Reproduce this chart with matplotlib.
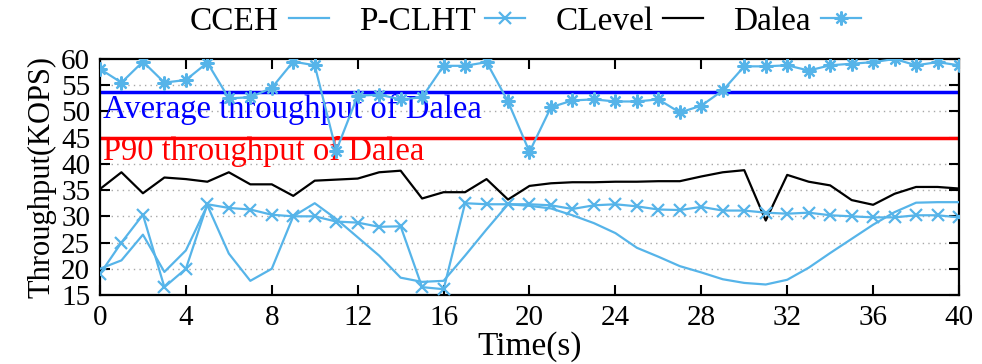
import matplotlib
matplotlib.use("Agg")
import matplotlib.pyplot as plt

plt.rcParams['font.family'] = ['Liberation Serif', 'DejaVu Serif']

time_s = list(range(0, 41))
cceh = [20, 21.6, 26.5, 19.4, 23.5, 32.1, 22.9, 17.7, 20, 30,
        32.5, 29.5, 26, 22.5, 18.3, 17.5, 17.7, 22.5, 27.5, 32.3,
        32, 31.5, 30.2, 28.7, 26.8, 24, 22.3, 20.5, 19.3, 18,
        17.3, 17, 17.9, 20.2, 23, 25.7, 28.4, 30.8, 32.6, 32.7, 32.7]
pclht = [19.0, 25, 30.3, 16.5, 20, 32.3, 31.6, 31.3, 30.3, 30,
         30, 29, 28.8, 28, 28.1, 16.5, 16.1, 32.5, 32.3, 32.3,
         32.3, 32.1, 31.4, 32.1, 32.3, 31.9, 31.3, 31.2, 31.8, 31.1,
         31.1, 30.7, 30.5, 30.7, 30.2, 30, 29.8, 29.8, 30.2, 30.2, 29.8]
clevel = [35.2, 38.4, 34.4, 37.4, 37.1, 36.6, 38.4, 36.1, 36.1, 33.9,
          36.8, 37.0, 37.2, 38.4, 38.7, 33.4, 34.6, 34.6, 37.1, 33.2,
          35.8, 36.3, 36.5, 36.5, 36.6, 36.6, 36.7, 36.7, 37.6, 38.4,
          38.8, 29.2, 37.9, 36.6, 35.9, 33.1, 32.2, 34.3, 35.6, 35.6, 35.3]
dalea = [58.1, 55.5, 59.5, 55.5, 56, 59.3, 52.5, 52.7, 54.5, 59.5,
         58.8, 42.5, 53.0, 53.2, 52.3, 52.7, 58.7, 58.7, 59.4, 51.9,
         42.3, 50.8, 52.1, 52.3, 51.9, 51.9, 52.3, 49.8, 51.1, 54,
         58.6, 58.6, 58.8, 57.8, 58.8, 59.1, 59.4, 60, 58.8, 59.4, 58.8]
avg_dalea = 53.7
p90_dalea = 45.0

xticks = [0, 4, 8, 12, 16, 20, 24, 28, 32, 36, 40]
yticks = [15, 20, 25, 30, 35, 40, 45, 50, 55, 60]

lb = '#56B4E9'

fig = plt.figure(figsize=(9.82, 3.64), dpi=100)
ax = fig.add_axes([0.1018, 0.1896, 0.8748, 0.6483])

for y in yticks[1:-1]:
    ax.axhline(y, color='#a8a8a8', lw=1.0, linestyle=(0, (1, 3)), zorder=0)

ax.axhline(avg_dalea, color='#0000ff', lw=2.5, zorder=2)
ax.axhline(p90_dalea, color='#ff0000', lw=2.5, zorder=2)
ax.text(0.15, 48.8, 'Average throughput of Dalea', color='#0000ff',
        fontsize=23.5, va='baseline', ha='left', zorder=3)
ax.text(0.15, 40.7, 'P90 throughput of Dalea', color='#ff0000',
        fontsize=23.5, va='baseline', ha='left', zorder=3)

l1, = ax.plot(time_s, cceh, color=lb, lw=1.6, zorder=4)
l2, = ax.plot(time_s, pclht, color=lb, lw=1.6, marker='x', ms=9, mew=1.6, zorder=5)
l3, = ax.plot(time_s, clevel, color='black', lw=1.6, zorder=4)
l4, = ax.plot(time_s, dalea, color=lb, lw=1.6, marker=(8, 2, 0), ms=10, mew=1.6, zorder=6)

ax.set_xlim(0, 40)
ax.set_ylim(15, 60)
ax.set_xticks(xticks)
ax.set_yticks(yticks)
ax.tick_params(direction='in', length=7, width=1.5, top=True, right=True,
               labelsize=21, pad=7)
for s in ax.spines.values():
    s.set_linewidth(1.6)
ax.set_xlabel('Time(s)', fontsize=24, labelpad=0)
ax.set_ylabel('Throughput(KOPS)', fontsize=22, labelpad=3)

fig.legend([l1, l2, l3, l4], ['CCEH', 'P-CLHT', 'CLevel', 'Dalea'],
           loc='center', bbox_to_anchor=(0.535, 0.94), ncol=4, frameon=False,
           markerfirst=False, fontsize=24, handlelength=1.2, handletextpad=0.3,
           columnspacing=0.9, borderpad=0.1)

fig.savefig('out.png', dpi=100)
